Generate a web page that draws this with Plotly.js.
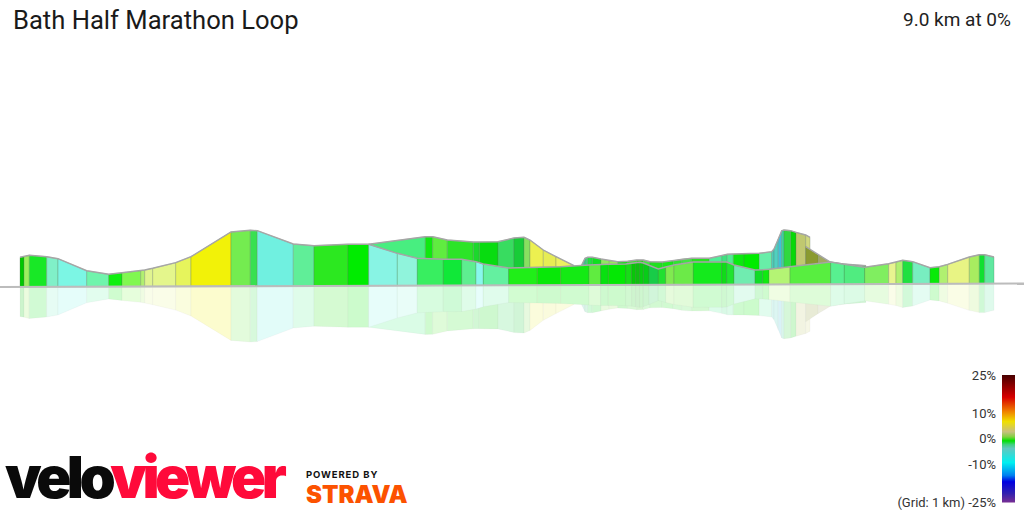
<!DOCTYPE html>
<html><head><meta charset="utf-8">
<script src="https://cdn.plot.ly/plotly-3.0.1.min.js"></script>
<style>html,body{margin:0;padding:0;background:#fff}#c{width:1024px;height:512px}</style>
</head><body><div id="c"></div>
<script>
// Ribbon layers, from back to front: distance along the picture, height above the base, grade colour per segment
const back1Dist=[368.7,425.3,432.7,447.3,473.3,479.3,498,514,524,530,543.3,556,574];
const back1Height=[42.7,50.3,50.3,47,45,45,45.3,49,49.7,47,37,30.3,21.3];
const back1Colors=['#48ee80','#10e810','#60ec40','#2ce428','#1cd82c','#08dc10','#38dc60','#18cc38','#88e060','#ecf050','#e6ec54','#ecf060'];

const back2Dist=[581.7,585,587.7,592.3,601,609.3,617.7,627.7,636.7,643.3,650,662.3,673.3,681.7,691.7,709.3,721.7,727.3,733.3,744,759.3,771.7,774,778.3,781.7,784,790.7,796,805.7,810];
const back2Height=[22,28.7,29.7,29.7,28,26.3,25.3,25.7,27,27,25.3,25,26.3,28,28.7,28.7,31.3,32.7,33,33,33.7,35.3,38,48,56.3,57,56.3,54.7,52,49.7];
const back2Colors=['#50c8a0','#40d080','#20e040','#10e020','#90e860','#98e858','#10e010','#40e030','#30d020','#40e840','#20e020','#18e818','#30e430','#40e640','#28e020','#50ee98','#40e080','#50ec90','#0ce810','#00ec00','#68eea8','#50d0c0','#50d0c0','#40c0d8','#40d8a0','#30d840','#08d808','#c0c870','#d0d880'];

const back3Dist=[805.7,818.3,830.7,843,866];
const back3Height=[40.3,32,24.7,23,21.3];
const back3Colors=['#8a9a30','#a0a860','#88c050','#18d830'];

const frontDist=[20,24,29.3,46.7,58,86.7,108.7,122,140.7,144.7,152.7,175.7,191,231,250.3,257.3,293.3,314,348,368.7,397.3,417.3,443.3,461.7,476,483.3,508.7,537.3,560.7,589,600.7,608.3,625.7,631.7,635.7,639.7,643.3,649,658.3,665.7,674,693.3,721.7,726.7,734,755,762.7,769,790,830.7,844.3,864.7,888.7,896,902.7,912.7,930,939.3,947.7,969.3,979.3,984.7,994];
const frontHeight=[29.7,30.3,31.7,30.3,28.3,16.3,12.7,14.3,16.3,17,18.7,24.3,30.3,55,56.7,56.3,43,41.3,42.7,42.7,33.7,28.7,27.7,27.7,25.3,23,19,19.7,20.3,22,22.7,22.7,23,23.5,24,24.7,24,22,18,20,22,25,25.3,25,22,17,17.3,17.7,20.3,25,22.7,19.7,23.3,24.7,26.7,25.3,19.3,20.3,22.7,30,32.3,32.3,30];
const frontColors=['#00c800','#9cf060','#18e826','#80f0c8','#7cf6e4','#70f4ac','#10f010','#80f850','#b0f070','#e0f490','#e4f68c','#e6f45c','#f2f208','#74ec50','#38e050','#70f0e0','#60ee98','#2ce820','#00ec00','#88f4e4','#90f4dc','#38ee60','#10e838','#5eee90','#88f8ec','#64f0a0','#20ee18','#08e808','#14ea14','#60ec40','#08e010','#04e804','#18dc18','#08c808','#10c010','#08d010','#08cc18','#18cc48','#20e030','#80ea50','#6cea48','#14ea1c','#10dc18','#20e430','#70ecb0','#10dc28','#10ea10','#b4f474','#58ee40','#58f090','#50ec80','#80ee60','#e8f490','#b0f070','#20e040','#78eec0','#08ea08','#b0f070','#e8f484','#a8ec60','#10e030','#60e8a0'];

const planeDist=[0,1024];
const planeHeight=[0,3.5];

// Grade colour key
const gradeStops=[-25,-21,-16.5,-14,-9,-3.5,-2,-0.5,1,3,7,11,16.5,25];
const gradeColors=['#803090','#3020b0','#0000e0','#0080f0','#00f0f0','#60c8c0','#40d080','#00e000','#80d040','#c8c080','#f0e000','#f08000','#d80000','#4a0000'];
const gradeTicks=[25,10,0,-10,-25];
const gradeLabels=['25%','10%','0%','-10%','(Grid: 1 km) -25%'];

const chartTitle='Bath Half Marathon Loop';
const summary='9.0 km at 0%';

const tilt=(planeHeight[1]-planeHeight[0])/(planeDist[1]-planeDist[0]);
const plane=x=>planeHeight[0]+x*tilt;
const mix=(hex,a)=>{const n=parseInt(hex.slice(1),16);const c=[n>>16,(n>>8)&255,n&255].map(v=>Math.round(255-(255-v)*a));return 'rgb('+c.join(',')+')';};

const layers=[[back1Dist,back1Height,back1Colors],[back2Dist,back2Height,back2Colors],[back3Dist,back3Height,back3Colors],[frontDist,frontHeight,frontColors]];
const traces=[];
const poly=(x,y,fill,line)=>traces.push({type:'scatter',mode:'lines',x,y,fill:'toself',fillcolor:fill,line:{color:line,width:1},hoverinfo:'skip',showlegend:false});

layers.forEach(([d,h,c])=>{
  c.forEach((col,i)=>{
    const a=d[i],b=d[i+1];
    poly([a,b,b,a,a],[plane(a),plane(b),2*plane(b)-h[i+1],2*plane(a)-h[i],plane(a)],mix(col,0.2),'rgba(150,150,150,0.06)');
  });
});
layers.forEach(([d,h,c])=>{
  c.forEach((col,i)=>{
    const a=d[i],b=d[i+1];
    poly([a,b,b,a,a],[plane(a),plane(b),h[i+1],h[i],plane(a)],col,'rgba(90,110,90,0.28)');
  });
  traces.push({type:'scatter',mode:'lines',x:d,y:h,line:{color:'#a6a6a6',width:1.4},hoverinfo:'skip',showlegend:false});
});
traces.push({type:'scatter',mode:'lines',x:planeDist,y:planeHeight,line:{color:'#bcbcbc',width:2},hoverinfo:'skip',showlegend:false});
traces.push({type:'heatmap',xaxis:'x2',yaxis:'y2',x:[0,1],y:[gradeStops[0],gradeStops[gradeStops.length-1]],
  z:[[gradeStops[0],gradeStops[0]],[gradeStops[gradeStops.length-1],gradeStops[gradeStops.length-1]]],
  zmin:-25,zmax:25,zsmooth:'best',showscale:false,hoverinfo:'skip',
  colorscale:gradeStops.map((g,i)=>[(g+25)/50,gradeColors[i]])});

const layout={
  width:1024,height:512,margin:{l:0,r:0,t:0,b:0},paper_bgcolor:'#fff',plot_bgcolor:'rgba(0,0,0,0)',showlegend:false,
  font:{family:'Roboto, sans-serif',color:'#222'},
  title:{text:chartTitle,x:13/1024,xanchor:'left',xref:'paper',y:1-20/512,yanchor:'middle',yref:'container',font:{family:'Roboto',size:25.6,color:'#1a1a1a'}},
  xaxis:{range:[0,1024],visible:false,fixedrange:true,domain:[0,1]},
  yaxis:{range:[-225,287],visible:false,fixedrange:true,domain:[0,1]},
  xaxis2:{domain:[1002/1024,1015/1024],range:[0,1],visible:false,anchor:'y2',fixedrange:true},
  yaxis2:{domain:[1-502.5/512,1-375/512],range:[-25,25],anchor:'x2',side:'left',showgrid:false,zeroline:false,showline:false,ticks:'',
    tickmode:'array',tickvals:gradeTicks,ticktext:gradeLabels,tickfont:{family:'Roboto',size:13,color:'#333'},ticklabelstandoff:5,fixedrange:true},
  annotations:[
    {text:summary,xref:'paper',yref:'paper',x:1013/1024,y:1-19/512,xanchor:'right',yanchor:'middle',showarrow:false,font:{family:'Roboto',size:19,color:'#222'}},
    {text:'<span style="letter-spacing:-4.5px;fill:#0a0a0a">velo</span><span style="letter-spacing:-4.5px;fill:#ff0a3a">viewer</span>',xref:'paper',yref:'paper',x:3/1024,y:1-477/512,xanchor:'left',yanchor:'middle',showarrow:false,font:{family:'Inter',size:58,weight:900,color:'#0a0a0a'}},
    {text:'<span style="letter-spacing:0.9px">POWERED BY</span>',xref:'paper',yref:'paper',x:304/1024,y:1-474/512,xanchor:'left',yanchor:'middle',showarrow:false,font:{family:'Inter',size:9.5,weight:700,color:'#111'}},
    {text:'STRAVA',xref:'paper',yref:'paper',x:304/1024,y:1-494/512,xanchor:'left',yanchor:'middle',showarrow:false,font:{family:'Inter',size:24,weight:900,color:'#fc5200'}}
  ]
};
Plotly.newPlot('c',traces,layout,{staticPlot:true,displayModeBar:false});
</script></body></html>
